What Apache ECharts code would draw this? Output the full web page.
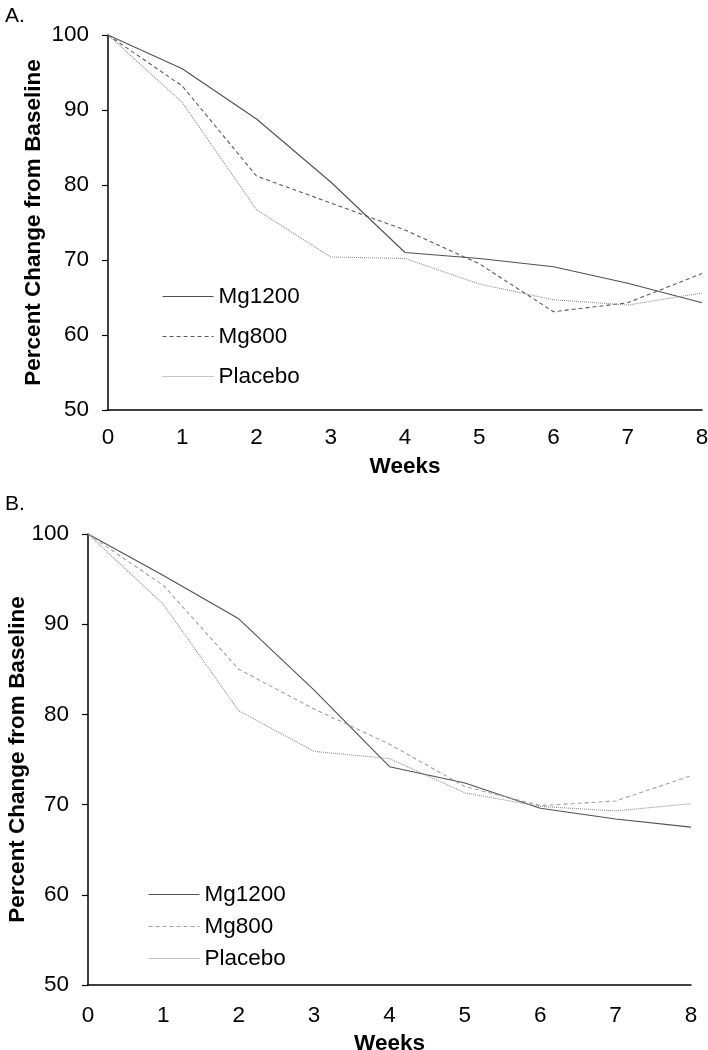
<!DOCTYPE html>
<html>
<head>
<meta charset="utf-8">
<script src="https://cdn.jsdelivr.net/npm/echarts@6/dist/echarts.min.js"></script>
<style>
html,body{margin:0;padding:0;background:#fff;}
#chart{width:708px;height:1050px;}
</style>
</head>
<body>
<div id="chart"></div>
<script>
// ---- data ----
var weeks = [0, 1, 2, 3, 4, 5, 6, 7, 8];
var seriesNames = ['Mg1200', 'Mg800', 'Placebo'];
var yTicks = [50, 60, 70, 80, 90, 100];
// Panel A
var a_Mg1200  = [100, 95.5, 88.8, 80.4, 71.0, 70.2, 69.1, 66.9, 64.3];
var a_Mg800   = [100, 93.2, 81.2, 77.6, 74.0, 69.5, 63.1, 64.3, 68.2];
var a_Placebo = [100, 91.0, 76.7, 70.4, 70.2, 66.8, 64.7, 64.0, 65.6];
// Panel B
var b_Mg1200  = [100, 95.4, 90.6, 82.7, 74.2, 72.4, 69.6, 68.4, 67.5];
var b_Mg800   = [100, 94.3, 85.0, 80.6, 76.7, 72.0, 69.9, 70.4, 73.2];
var b_Placebo = [100, 92.2, 80.4, 75.9, 75.1, 71.3, 69.8, 69.3, 70.1];

function pairs(vals){ return weeks.map(function(w,i){ return [w, vals[i]]; }); }

var FONT = '"Liberation Sans", Arial, sans-serif';
var FS = 22.5;

var styles = {
  A: [
    {color:'#505050', type:'solid'},
    {color:'#5a5a5a', type:[4,3]},
    {color:'#8c8c8c', type:[1,1]}
  ],
  B: [
    {color:'#505050', type:'solid'},
    {color:'#a0a0a0', type:[4,3]},
    {color:'#8c8c8c', type:[1,1]}
  ]
};

function xAxisCfg(gi, nameGap, labelMargin){
  return {
    type:'value', gridIndex:gi, min:0, max:8, interval:1,
    name:'Weeks', nameLocation:'middle', nameGap:nameGap, nameMoveOverlap:false,
    nameTextStyle:{fontFamily:FONT, fontSize:FS, fontWeight:'bold', color:'#000'},
    axisLine:{show:true, onZero:false, lineStyle:{color:'#000', width:1.5}},
    axisTick:{show:false},
    splitLine:{show:false},
    axisLabel:{fontFamily:FONT, fontSize:FS, color:'#000', margin:labelMargin}
  };
}
function yAxisCfg(gi, nameGap){
  return {
    type:'value', gridIndex:gi, min:yTicks[0], max:yTicks[yTicks.length-1], interval:10,
    name:'Percent Change from Baseline', nameLocation:'middle', nameGap:nameGap, nameRotate:90,
    nameMoveOverlap:false,
    nameTextStyle:{fontFamily:FONT, fontSize:FS, fontWeight:'bold', color:'#000'},
    axisLine:{show:true, lineStyle:{color:'#000', width:1.5}},
    axisTick:{show:true, inside:false, length:6, lineStyle:{color:'#000', width:1.2}},
    splitLine:{show:false},
    axisLabel:{fontFamily:FONT, fontSize:FS, color:'#000', margin:19}
  };
}
function mkSeries(name, vals, gi, st){
  return {
    type:'line', name:name, xAxisIndex:gi, yAxisIndex:gi,
    data:pairs(vals), symbol:'none', smooth:false, silent:true,
    lineStyle:{color:st.color, width:1.1, type:st.type},
    itemStyle:{color:st.color}
  };
}
function legendCfg(left, top, gap, st){
  return {
    orient:'vertical', left:left, top:top, itemGap:gap,
    itemWidth:51, itemHeight:12,
    textStyle:{fontFamily:FONT, fontSize:FS, color:'#000'},
    selectedMode:false,
    data: seriesNames.map(function(n,i){
      return {name:n, itemStyle:{color:'rgba(0,0,0,0)', borderWidth:0, opacity:0}, lineStyle:{color:st[i].color, width:1.1, type:st[i].type, opacity:1}};
    })
  };
}

var chart = echarts.init(document.getElementById('chart'), null, {renderer:'canvas'});
var option = {
  backgroundColor:'#fff',
  animation:false,
  title:[
    {text:'A.', left:0, top:1, textStyle:{fontFamily:FONT, fontSize:21, fontWeight:'normal', color:'#000'}},
    {text:'B.', left:0, top:489, textStyle:{fontFamily:FONT, fontSize:21, fontWeight:'normal', color:'#000'}}
  ],
  grid:[
    {left:108, top:35, width:594, height:375, containLabel:false, outerBoundsMode:'none'},
    {left:88, top:534, width:603, height:451, containLabel:false, outerBoundsMode:'none'}
  ],
  xAxis:[xAxisCfg(0, 45, 16), xAxisCfg(1, 47, 19)],
  yAxis:[yAxisCfg(0, 63), yAxisCfg(1, 59)],
  legend:[
    legendCfg(157, 280, 17, styles.A),
    legendCfg(143, 878, 9, styles.B)
  ],
  series:[
    mkSeries(seriesNames[0], a_Mg1200, 0, styles.A[0]),
    mkSeries(seriesNames[1], a_Mg800, 0, styles.A[1]),
    mkSeries(seriesNames[2], a_Placebo, 0, styles.A[2]),
    mkSeries(seriesNames[0], b_Mg1200, 1, styles.B[0]),
    mkSeries(seriesNames[1], b_Mg800, 1, styles.B[1]),
    mkSeries(seriesNames[2], b_Placebo, 1, styles.B[2])
  ]
};
chart.setOption(option);
</script>
</body>
</html>
